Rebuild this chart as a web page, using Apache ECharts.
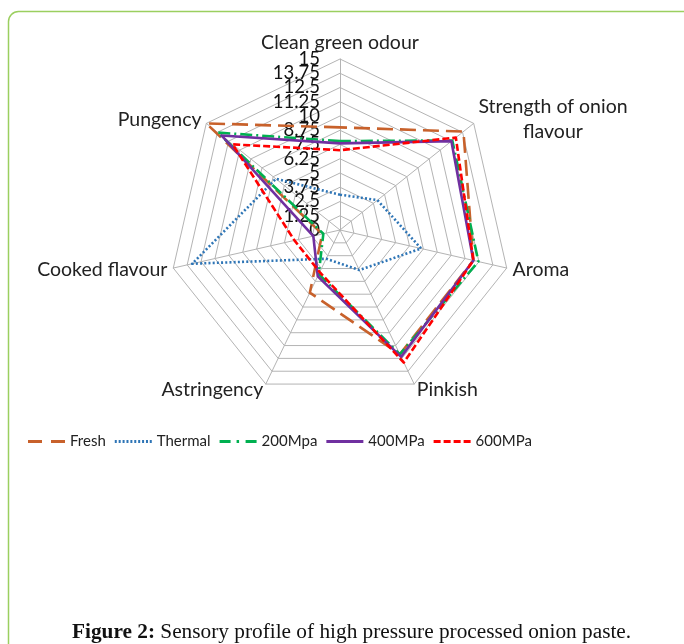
<!DOCTYPE html>
<html><head><meta charset="utf-8">
<script src="https://cdn.jsdelivr.net/npm/echarts@6/dist/echarts.min.js"></script>
<style>html,body{margin:0;padding:0;background:#fff}#c{width:684px;height:644px}</style>
</head><body><div id="c"></div>
<script>
const indicators = ['Clean green odour','Strength of onion flavour','Aroma','Pinkish','Astringency','Cooked flavour','Pungency'];
const tickMax = 15;
const tickSplits = 12;
const seriesNames = ['Fresh','Thermal','200Mpa','400MPa','600MPa'];
const fresh   = [9.0, 13.85, 12.0, 12.1, 6.1, 1.6, 15.0];
const thermal = [3.1, 4.2, 7.3, 3.9, 2.8, 13.3, 7.2];
const mpa200  = [7.8, 12.6, 12.45, 12.1, 4.3, 1.5, 13.7];
const mpa400  = [7.6, 12.5, 12.0, 12.35, 4.5, 2.4, 13.3];
const mpa600  = [7.0, 13.0, 12.0, 12.9, 4.1, 4.1, 12.05];
const captionBold = 'Figure 2:';
const caption = 'Sensory profile of high pressure processed onion paste.';

// ECharts radar runs counter-clockwise; reorder so the categories run clockwise as in the figure
const order = [0, 6, 5, 4, 3, 2, 1];
const reorder = arr => order.map(k => arr[k]);

const colors = ['#C8612B','#2E75B6','#00B050','#7030A0','#FF0000'];
const dashes = [[16,7],[2,2.2],[12,4,2,4],'solid',[7,3]];
const icons = [
  'path://M0,0H14V3H0Z M23,0H37V3H23Z',
  'path://M0,0H2V3H0Z M3.9,0H5.9V3H3.9Z M7.8,0H9.8V3H7.8Z M11.7,0H13.7V3H11.7Z M15.6,0H17.6V3H15.6Z M19.5,0H21.5V3H19.5Z M23.4,0H25.4V3H23.4Z M27.3,0H29.3V3H27.3Z M31.2,0H33.2V3H31.2Z M35,0H37V3H35Z',
  'path://M0,0H11V3H0Z M17,0H19.5V3H17Z M26,0H37V3H26Z',
  'path://M0,0H37V3H0Z',
  'path://M0,0H7V3H0Z M10,0H17V3H10Z M20,0H27V3H20Z M30,0H37V3H30Z'
];
const allData = [fresh, thermal, mpa200, mpa400, mpa600];
const FONT = 'Lato';
const fmt = v => String(+(+v).toFixed(2));
const labelBase = {fontFamily: FONT, fontSize: 18.5, color:'#111', margin: 20, hideOverlap: false,
  lineHeight: 8, padding: [4, 0, 0, 0]};

function radarBase(extra) {
  return Object.assign({
    center: [340, 230], radius: 171, startAngle: 90, shape: 'polygon',
    splitNumber: tickSplits,
    axisTick: {show:false},
    axisLine: {lineStyle:{color:'#B4B4B4', width:1}},
    splitLine: {lineStyle:{color:'#B4B4B4', width:1}},
    splitArea: {show:false}
  }, extra);
}

const chart = echarts.init(document.getElementById('c'), null, {renderer:'canvas'});
chart.setOption({
  animation: false,
  backgroundColor: '#fff',
  graphic: [
    {type:'rect', shape:{x:8.5, y:11.5, width:700, height:660, r:10}, style:{fill:'none', stroke:'#9BCF5F', lineWidth:1.5}, z:-1},
    {type:'text', left:72, top:622, style:{
      text:'{b|' + captionBold + '} ' + caption,
      rich:{b:{fontFamily:'Liberation Serif', fontWeight:'bold', fontSize:21.3, fill:'#111'}},
      fontFamily:'Liberation Serif', fontSize:21.3, fill:'#111'}}
  ],
  legend: {
    left: 28, top: 434, padding: 0, itemWidth: 37, itemHeight: 3, itemGap: 9,
    textStyle: {fontFamily: FONT, fontSize: 15, color: '#222'},
    data: seriesNames.map((n,i)=>({name:n, icon: icons[i], itemStyle:{color:colors[i]}}))
  },
  radar: [
    radarBase({
      indicator: reorder(indicators).map((n,i)=>({
        name: n, min: 0, max: tickMax,
        axisLabel: i===0 ? {show:true} : {show:false}
      })),
      axisName: {
        fontFamily: FONT, fontSize: 19.5, color: '#222',
        formatter: function(n){ return n==='Strength of onion flavour' ? '{c|Strength of onion}\n{c|flavour}' : n; },
        rich: {c:{fontFamily:FONT, fontSize:19.5, color:'#222', align:'center', lineHeight:25}}
      },
      nameGap: 6,
      axisLabel: Object.assign({show:false, formatter: fmt}, labelBase)
    }),
    // second, invisible copy of the same axes that only carries the min and max tick labels
    radarBase({
      indicator: reorder(indicators).map((n,i)=>({
        name: '', min: 0, max: tickMax,
        axisLabel: i===0 ? {show:true} : {show:false}
      })),
      axisName: {show:false},
      axisLine: {show:false},
      splitLine: {show:false},
      axisLabel: Object.assign({show:false, showMinLabel:true, showMaxLabel:true,
        formatter: v => (+v === 0 || +v === tickMax) ? fmt(v) : ''}, labelBase)
    })
  ],
  series: allData.map((d,i)=>({
    type:'radar', name: seriesNames[i], radarIndex: 0, symbol:'none', z: 2+i,
    lineStyle:{color:colors[i], width:2.6, type:dashes[i]},
    itemStyle:{color:colors[i]},
    data:[{value:reorder(d), name:seriesNames[i]}]
  }))
});
</script></body></html>
